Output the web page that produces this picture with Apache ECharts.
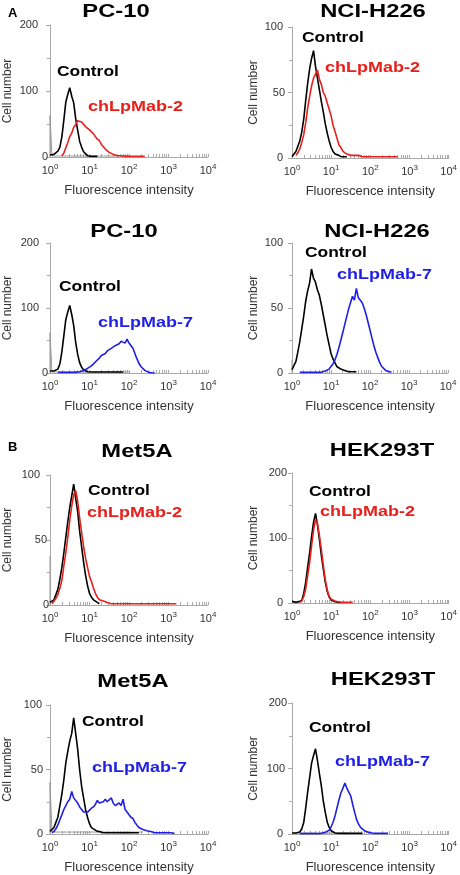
<!DOCTYPE html>
<html><head><meta charset="utf-8">
<script src="https://cdn.jsdelivr.net/npm/echarts@6/dist/echarts.min.js"></script>
<style>html,body{margin:0;padding:0;background:#fff}#c{width:460px;height:875px}</style>
</head><body><div id="c"></div>
<script>
// Fluorescence channel centres (intensity), read as log-spaced bins
const xs = [1,1.12,1.26,1.41,1.58,1.78,2,2.24,2.51,2.82,3.16,3.55,3.98,4.47,5.01,5.62,6.31,7.08,7.94,8.91,
  10,11.2,12.6,14.1,15.8,17.8,20,22.4,25.1,28.2,31.6,35.5,39.8,44.7,50.1,56.2,63.1,70.8,79.4,89.1,
  100,112,126,141,158,178,200,224,251,282,316,355,398,447,501,562,631,708,794,891,
  1000,1122,1259,1413,1585,1778,1995];

const titles = ['PC-10','NCI-H226','PC-10','NCI-H226','Met5A','HEK293T','Met5A','HEK293T'];
const antibodies = ['chLpMab-2','chLpMab-2','chLpMab-7','chLpMab-7','chLpMab-2','chLpMab-2','chLpMab-7','chLpMab-7'];
const controlName = 'Control';
const yMax = [200,100,200,100,100,200,100,200];
const yStep = [100,50,100,50,50,100,50,100];
const xLabelValues = [1,10,100,1000,10000];
const xMinorValues = [1,2,3,4,5,6,7,8,9,10,20,30,40,50,60,70,80,90,100,200,300,400,500,600,700,800,900,1000,2000,3000,4000,5000,6000,7000,8000,9000,10000];
const sectionLetters = ['A','B'];

// Control histograms (black)
const control1 = [3,2,4,5,9,15,31,56,83,95,105,92,82,58,41,24,15,8,5,2,2,1,1,1,1];
const control2 = [1,3,5,9,13,20,30,44,57,68,76,82,70,61,52,43,35,26,19,13,8,5,3,2,2,1,1,1,1];
const control3 = [3,3,3,4,6,14,33,57,82,94,104,90,73,47,29,16,9,5,3,2,1.5,1.5,1.5,1.5,1.5,1.5,1.5,1.5,1.5,1.5,1.5,1.5,1.5,1.5,1.5,1.5,1.5,1.5];
const control4 = [2.5,4,9,16,24,34,44,55,63,69,80,73,70,64,60,53,45,37,29,22,15,11,8,5,4,3,2,2,1.5,1,1,1,1,1];
const control5 = [2,3,4,8,12,20,29,40,52,64,75,84,93,82,72,57,45,33,23,15,9,6,4,3,2,1];
const control6 = [2.5,1.5,1,1.5,2.5,4,15,32,55,77,102,124,138,120,98,73,52,32,18,9,4.5,2.5,2,1.5,1,1];
const control7 = [2,3,5,9,13,22,31,42,55,64,72,78,90,78,66,50,37,28,19,13,8,5,4,3,2,2,1.5,1,1,1,1,1,1,1,1,1,1,1,1,1,1,1,1,1,1,1];
const control8 = [1.5,1,1.5,2,3,8,18,40,64,86,108,120,130,112,92,73,50,33,18,10,5,3,1.5,1,1,1,1,1,1,1,1,1,1,1,1,1,1];

// Antibody histograms (red = chLpMab-2, blue = chLpMab-7)
const antibody1 = [null,null,null,null,null,null,2,6,14,22,31,36,45,49,55,57,53,51,46,45,41,40,35,33,27,25,19,17,12,10,7,5,4,3,2,2,2,1,1,1,1,1,1,1,1,1,1,1,1];
const antibody2 = [null,null,2,4,7,12,18,27,38,47,55,61,64,67,60,56,50,47,42,37,32,25,20,15,10,8,5,4,3,3,2,2,2,2,2,2,1,1,1,1,1,1,1,1,1,1,1,1,1,1,1,1,1,1,1];
const antibody3 = [null,null,null,null,1,1,1,1,1,1,1,1,1,1,1,2,3,4,5,7,9,11,14,17,20,23,27,28,30,34,37,38,41,42,43,45,49,47,46,52,46,43,38,30,22,15,10,7,4,2,1,1,0,0];
const antibody4 = [null,null,null,null,0.5,0.5,0.5,0.5,0.5,0.5,0.5,0.5,0.5,0.5,0.5,0.5,1,1.5,2,3,5,7,10,14,19,25,31,37,43,49,54,59,56,65,58,57,54,50,45,39,33,27,21,16,12,8,5,3.5,2,1.5,1,0.5];
const antibody5 = [null,1,3,5,8,13,19,30,40,52,65,76,85,88,80,67,56,45,36,29,22,18,13,9,6,4,3,3,2,2,2,1,1,1,1,1,1,1,1,1,1,1,1,1,1,1,1,1,1,1,1,1,1,1,1,1,1,1,1,1,1,1,1,1,1];
const antibody6 = [null,null,null,null,1,3,10,22,42,62,88,112,128,122,104,82,58,36,20,10,6,4,3,2,1.5,1,1,1,1,1,1,1];
const antibody7 = [null,1,2,4,7,11,15,19,22,25,27,33,28,27,24,21,19,17,16,17,18,20,21,23,26,24,23,25,27,25,24,28,24,22,23,24,22,27,19,17,15,13,12,9,7,5,4,3.5,3,2.5,2,2,1.5,1,1,1,1,1,1,1,1,1,1,0.5];
const antibody8 = [null,null,null,null,0.5,0.5,0.5,0.5,0.5,0.5,0.5,0.5,0.5,0.5,0.5,1,1.5,2.5,3.5,6,11,18,28,40,52,63,70,78,70,64,58,45,33,22,15,10,7,5,3.5,2.5,2,1.5,1,1,1,1,1,1,1,1];

// Grey (unstained) trace: spike height at 10^0 and where its flat baseline ends
const greySpike = [63,0,62,10,38,0,40,0];
const greyEnd = [100,0,100,0,0,0,250,30];
const greyFlat = 1.5;

const controls = [control1,control2,control3,control4,control5,control6,control7,control8];
const antibodyData = [antibody1,antibody2,antibody3,antibody4,antibody5,antibody6,antibody7,antibody8];

// ---------- layout (pixels) ----------
const grids = [
  {left:50, top:25, width:158, height:132},
  {left:292, top:27, width:160, height:131},
  {left:50, top:243, width:158, height:130},
  {left:292, top:243, width:156, height:130},
  {left:50, top:475, width:158, height:130},
  {left:292, top:473, width:159, height:130},
  {left:50, top:705, width:158, height:130},
  {left:292, top:703, width:159, height:132}
];
// gap between y axis line and right edge of labels (bottom, middle, top label)
const yLabelGaps = [[2,12,12],[9,7,9],[2,11,11],[9,9,9],[1,3,10],[9,5,5],[7,7,8],[9,7,5]];
const titlePos = [[116,12],[373,12],[124,232],[377,232],[137,452],[382,451],[133,682],[383,680]];
const ctrlPos = [[57,72],[302,38],[59,287],[305,253],[88,491],[309,492],[82,722],[309,728]];
const abPos = [[88,107],[325,68],[98,323],[337,275],[87,513],[320,512],[92,768],[335,762]];
const letterPos = [[8,13],[8,447]];

const FONT = '"Liberation Sans", Arial, Helvetica, sans-serif';
const RED = '#e8201c', BLUE = '#1f1fe6';
const abColor = i => antibodies[i] === 'chLpMab-2' ? RED : BLUE;

const xAxes = [], yAxes = [], series = [], graphics = [];
grids.forEach((g, i) => {
  xAxes.push({
    type:'log', logBase:10, min:1, max:10000, gridIndex:i,
    name:'Fluorescence intensity', nameLocation:'middle', nameGap:27,
    nameTextStyle:{fontFamily:FONT, fontSize:13, color:'#333'},
    axisLine:{lineStyle:{color:'#aaa', width:1}},
    axisTick:{show:true, inside:true, length:3, customValues:xMinorValues, lineStyle:{color:'#aaa'}},
    axisLabel:{customValues:xLabelValues, fontFamily:FONT, fontSize:11, color:'#333', margin:6,
      formatter: v => '10{s|' + Math.round(Math.log10(v)) + '}',
      rich:{s:{fontFamily:FONT, fontSize:8, color:'#333', padding:[0,0,7,0]}}},
    splitLine:{show:false}, minorSplitLine:{show:false}
  });
  const rich = {};
  yLabelGaps[i].forEach((gap, k) => {
    rich['g' + k] = {fontFamily:FONT, fontSize:11, color:'#333', padding:[0, gap, 0, 0]};
  });
  yAxes.push({
    type:'value', min:0, max:yMax[i], interval:yStep[i], gridIndex:i,
    name:'Cell number', nameLocation:'middle', nameGap: i % 2 === 0 ? 36 : 32,
    nameTextStyle:{fontFamily:FONT, fontSize:12, color:'#333'},
    axisLine:{show:true, lineStyle:{color:'#aaa', width:1}},
    axisTick:{show:true, length:4, lineStyle:{color:'#aaa'}},
    minorTick:{show:true, splitNumber:2, length:3, lineStyle:{color:'#aaa'}},
    axisLabel:{fontFamily:FONT, fontSize:11, color:'#333', margin:0,
      formatter: (v) => '{g' + Math.round(v / yStep[i]) + '|' + v + '}', rich},
    splitLine:{show:false}
  });
  if (greySpike[i] > 0 || greyEnd[i] > 0) {
    const gd = [[1,0],[1,greySpike[i]]];
    xs.forEach((x, k) => { if (k > 0 && x <= greyEnd[i]) gd.push([x, greyFlat]); });
    series.push({type:'line', xAxisIndex:i, yAxisIndex:i, data:gd, showSymbol:false,
      lineStyle:{color:'#999', width:1}, silent:true, z:1});
  }
  series.push({type:'line', name:controlName, xAxisIndex:i, yAxisIndex:i, showSymbol:false,
    data: controls[i].map((v, k) => [xs[k], v]), connectNulls:false,
    lineStyle:{color:'#000', width:1.6}, z:2});
  series.push({type:'line', name:antibodies[i], xAxisIndex:i, yAxisIndex:i, showSymbol:false,
    data: antibodyData[i].map((v, k) => [xs[k], v]), connectNulls:false,
    lineStyle:{color:abColor(i), width:1.6}, z:3});

  const txt = (x, y, text, font, color, align, sx) => ({
    type:'text', x, y, scaleX:sx, originX:0, originY:0, silent:true,
    style:{text, font, fill:color, align, verticalAlign:'middle', textAlign:align, textVerticalAlign:'middle'}
  });
  graphics.push(txt(titlePos[i][0], titlePos[i][1], titles[i], 'bold 19px ' + FONT, '#000', 'center', 1.25));
  graphics.push(txt(ctrlPos[i][0], ctrlPos[i][1], controlName, 'bold 14.5px ' + FONT, '#000', 'left', 1.2));
  graphics.push(txt(abPos[i][0], abPos[i][1], antibodies[i], 'bold 14.5px ' + FONT, abColor(i), 'left', 1.24));
});
sectionLetters.forEach((L, k) => {
  graphics.push({type:'text', x:letterPos[k][0], y:letterPos[k][1], silent:true,
    style:{text:L, font:'bold 13px ' + FONT, fill:'#000', align:'left', verticalAlign:'middle', textAlign:'left', textVerticalAlign:'middle'}});
});

const chart = echarts.init(document.getElementById('c'), null, {renderer:'canvas'});
chart.setOption({
  animation:false,
  backgroundColor:'#fff',
  grid: grids,
  xAxis: xAxes,
  yAxis: yAxes,
  series: series,
  graphic: graphics
});
</script></body></html>
